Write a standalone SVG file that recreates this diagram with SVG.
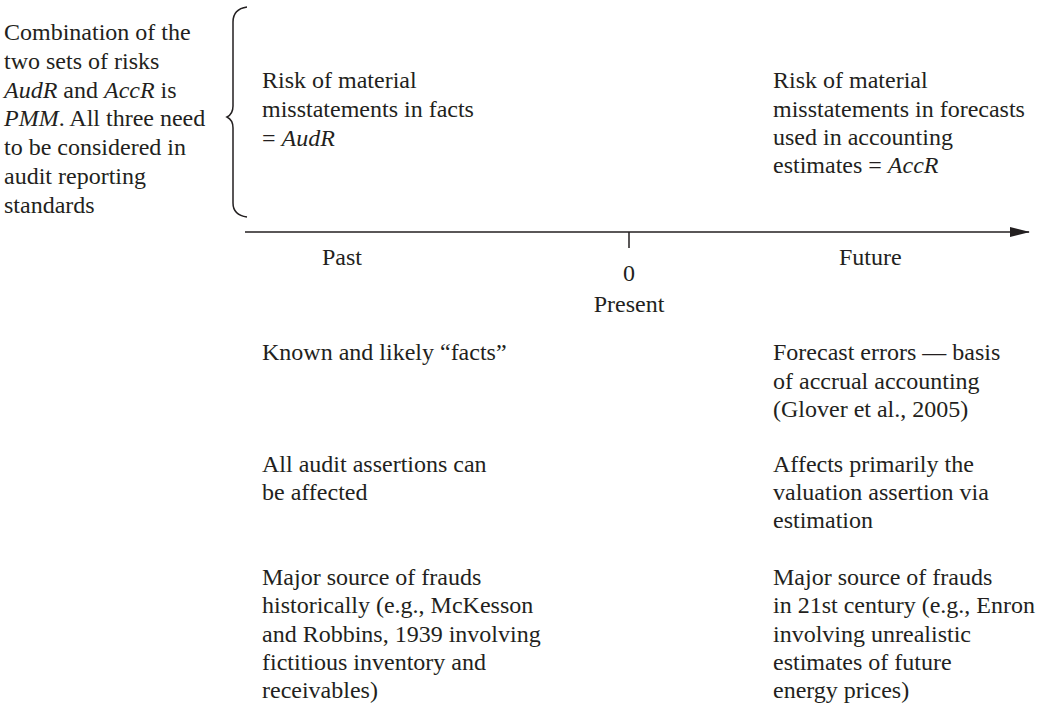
<svg xmlns="http://www.w3.org/2000/svg" width="1041" height="708" viewBox="0 0 1041 708" font-family="'Liberation Serif', Tinos, 'Times New Roman', Times, 'DejaVu Serif', serif">
  <style>
    text { font-family: 'Liberation Serif', Tinos, 'Times New Roman', Times, 'DejaVu Serif', serif; font-size: 24px; fill: #231f20; }
    .it { font-style: italic; }
    .mid { text-anchor: middle; }
    .ln { stroke: #231f20; stroke-width: 1.5; fill: none; }
  </style>
  <defs>
    <marker id="arrow" viewBox="0 0 20 10" refX="19" refY="5" markerWidth="20" markerHeight="10" markerUnits="userSpaceOnUse" orient="auto">
      <path d="M0,0 L20,5 L0,10 Z" fill="#231f20"/>
    </marker>
  </defs>

  <!-- summary note with curly brace -->
  <g id="summary">
    <text x="4" y="40">Combination of the</text>
    <text x="4" y="69">two sets of risks</text>
    <text x="4" y="98"><tspan class="it">AudR</tspan> and <tspan class="it">AccR</tspan> is</text>
    <text x="4" y="126"><tspan class="it">PMM</tspan>. All three need</text>
    <text x="4" y="155">to be considered in</text>
    <text x="4" y="184">audit reporting</text>
    <text x="4" y="213">standards</text>
    <path class="ln" d="M247,7 Q233,9 233,22 L233,106 Q233,114 227,117 Q233,120 233,128 L233,203 Q233,215 247,217"/>
  </g>

  <!-- time axis -->
  <g id="connectors">
    <line class="ln" x1="245" y1="232" x2="1029" y2="232" marker-end="url(#arrow)"/>
    <line class="ln" x1="629" y1="232" x2="629" y2="248"/>
  </g>

  <g id="axis-labels">
    <text x="322" y="265">Past</text>
    <text x="629" y="281" class="mid">0</text>
    <text x="629" y="312" class="mid">Present</text>
    <text x="839" y="265">Future</text>
  </g>

  <!-- past column -->
  <g id="past-risk">
    <text x="262" y="88">Risk of material</text>
    <text x="262" y="117">misstatements in facts</text>
    <text x="262" y="146">= <tspan class="it">AudR</tspan></text>
  </g>
  <g id="past-facts">
    <text x="262" y="360">Known and likely “facts”</text>
  </g>
  <g id="past-assertions">
    <text x="262" y="472">All audit assertions can</text>
    <text x="262" y="500">be affected</text>
  </g>
  <g id="past-frauds">
    <text x="262" y="585">Major source of frauds</text>
    <text x="262" y="613">historically (e.g., McKesson</text>
    <text x="262" y="642">and Robbins, 1939 involving</text>
    <text x="262" y="670">fictitious inventory and</text>
    <text x="262" y="698">receivables)</text>
  </g>

  <!-- future column -->
  <g id="future-risk">
    <text x="773" y="88">Risk of material</text>
    <text x="773" y="117">misstatements in forecasts</text>
    <text x="773" y="145">used in accounting</text>
    <text x="773" y="173">estimates = <tspan class="it">AccR</tspan></text>
  </g>
  <g id="future-errors">
    <text x="773" y="360">Forecast errors — basis</text>
    <text x="773" y="389">of accrual accounting</text>
    <text x="773" y="417">(Glover et al., 2005)</text>
  </g>
  <g id="future-assertions">
    <text x="773" y="472">Affects primarily the</text>
    <text x="773" y="500">valuation assertion via</text>
    <text x="773" y="528">estimation</text>
  </g>
  <g id="future-frauds">
    <text x="773" y="585">Major source of frauds</text>
    <text x="773" y="613">in 21st century (e.g., Enron</text>
    <text x="773" y="642">involving unrealistic</text>
    <text x="773" y="670">estimates of future</text>
    <text x="773" y="698">energy prices)</text>
  </g>
</svg>
